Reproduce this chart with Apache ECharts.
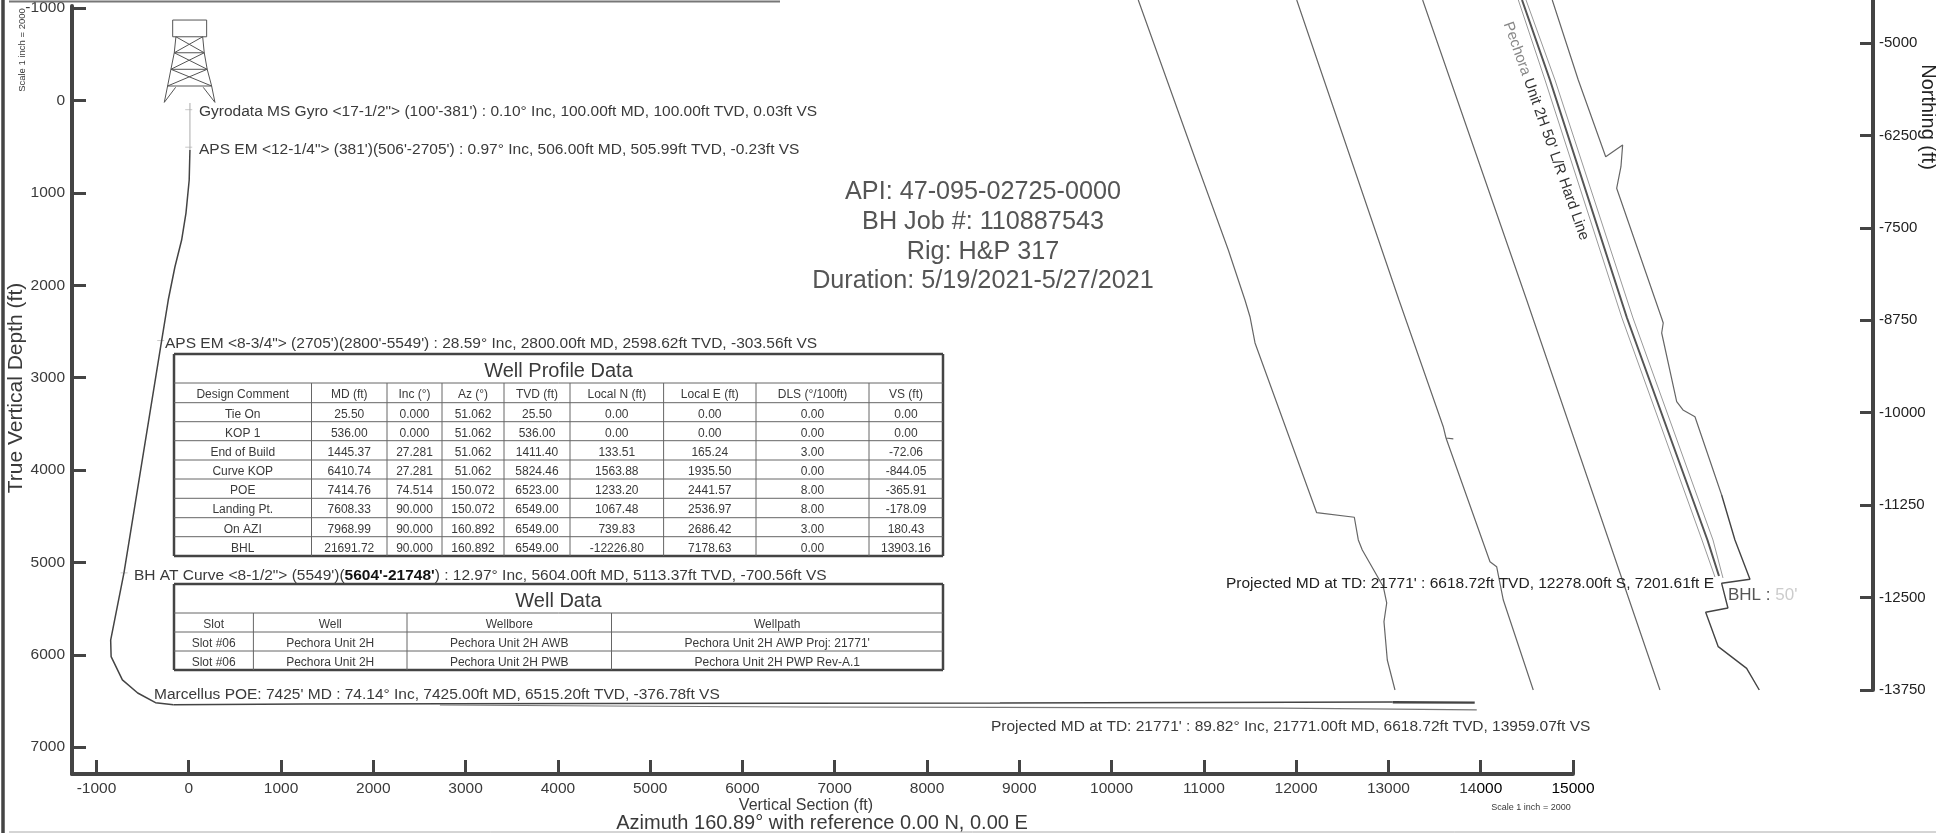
<!DOCTYPE html>
<html>
  <head>
    <meta charset="utf-8" />
    <title>Pechora Unit 2H</title>
    <script src="https://cdn.jsdelivr.net/npm/echarts@6/dist/echarts.min.js"></script>
    <style>
      html, body { margin: 0; padding: 0; background: #fff; }
      #chart { width: 1936px; height: 833px; }
    </style>
  </head>
  <body>
    <div id="chart"></div>
    <script type="text/javascript">
      // tick labels
      var tvdTicks = [-1000, 0, 1000, 2000, 3000, 4000, 5000, 6000, 7000];
      var vsTicks = [-1000, 0, 1000, 2000, 3000, 4000, 5000, 6000, 7000, 8000, 9000, 10000, 11000, 12000, 13000, 14000, 15000];
      var northingTicks = [-5000, -6250, -7500, -8750, -10000, -11250, -12500, -13750];

      // section view, [VS, TVD]
      var sectionUpper = [[13, 28], [13, 537]];
      var sectionCurve = [[13, 537], [5, 861], [-30, 1219], [-77, 1511], [-150, 1803], [-222, 2160], [-287, 2560],
        [-702, 5114], [-846, 5840], [-841, 6020], [-719, 6272], [-553, 6413], [-360, 6518], [-166, 6540]];
      var sectionLateralTop = [[-166, 6540], [1244, 6532], [4455, 6527], [8790, 6522], [13047, 6511]];
      var sectionLateralEnd = [[13047, 6514], [13935, 6518]];
      var sectionLateralLow = [[2722, 6543], [4531, 6554], [6622, 6565], [8790, 6570], [11823, 6576], [13068, 6587], [13957, 6597]];
      var surveyMarks = [[0, 100], [-0.23, 506], [-303.56, 2598.62], [-700.56, 5113.37]];

      // derrick drawn in the section axes, '-' breaks the line
      var derrick = [
        [-174, -870], [194, -870], [194, -689], [-174, -689], [-174, -870], ['-', '-'],
        [-139, -689], [-157, -516], [-193, -337], [-229, -156], [-265, 21], ['-', '-'],
        [151, -689], [168, -516], [200, -337], [248, -156], [284, 21], ['-', '-'],
        [-157, -516], [168, -516], ['-', '-'], [-193, -337], [200, -337], ['-', '-'], [-229, -156], [248, -156], ['-', '-'],
        [-139, -689], [168, -516], ['-', '-'], [151, -689], [-157, -516], ['-', '-'],
        [-157, -516], [200, -337], ['-', '-'], [168, -516], [-193, -337], ['-', '-'],
        [-193, -337], [248, -156], ['-', '-'], [200, -337], [-229, -156], ['-', '-'],
        [-142, -142], [-265, 21], ['-', '-'], [157, -142], [284, 21]
      ];

      // plan view, [easting, northing]
      var leaseA = [[-639, -4418], [151, -6623], [579, -7800], [804, -8476], [872, -8702], [940, -9057], [1774, -11352],
        [2283, -11414], [2337, -11721], [2391, -11857], [2675, -12353], [2721, -12573], [2684, -12826], [2729, -13344], [2833, -13750]];
      var leaseB = [[1504, -4418], [2887, -8476], [3486, -10189], [3523, -10342], [3622, -10355], [3523, -10342],
        [4118, -12015], [4208, -12082], [4298, -12533], [4703, -13750]];
      var leaseC = [[3207, -4418], [4614, -8476], [6417, -13750]];
      var leaseD = [[4960, -4418], [5312, -5500], [5683, -6538], [5912, -6379], [5889, -6673], [5831, -6965], [6440, -8723],
        [6461, -8787], [6440, -8922], [6643, -9851], [6728, -9963], [6890, -10054], [7251, -11113]];
      var leaseDLower = [[7251, -11113], [7431, -11721], [7634, -12253], [7251, -12307], [7336, -12641], [7035, -12699],
        [7205, -13164], [7589, -13457], [7760, -13750]];
      var hardLineLeft = [[4501, -4418], [4862, -5500], [5903, -8719], [6985, -11721], [7161, -12222]];
      var hardLineRight = [[4605, -4418], [4997, -5500], [6052, -8719], [7134, -11721], [7269, -12235]];
      var wellPlan = [[4551, -4418], [4929, -5500], [5971, -8719], [7059, -11721], [7215, -12208]];

      // texts
      var noteGyro = 'Gyrodata MS Gyro <17-1/2"> (100\'-381\') : 0.10° Inc, 100.00ft MD, 100.00ft TVD, 0.03ft VS';
      var noteAps1 = 'APS EM <12-1/4"> (381\')(506\'-2705\') : 0.97° Inc, 506.00ft MD, 505.99ft TVD, -0.23ft VS';
      var noteAps2 = 'APS EM <8-3/4"> (2705\')(2800\'-5549\') : 28.59° Inc, 2800.00ft MD, 2598.62ft TVD, -303.56ft VS';
      var noteBhStart = 'BH AT Curve <8-1/2"> (5549\')(';
      var noteBhBold = '5604\'-21748\'';
      var noteBhEnd = ') : 12.97° Inc, 5604.00ft MD, 5113.37ft TVD, -700.56ft VS';
      var notePoe = 'Marcellus POE: 7425\' MD : 74.14° Inc, 7425.00ft MD, 6515.20ft TVD, -376.78ft VS';
      var noteProjSection = 'Projected MD at TD: 21771\' : 89.82° Inc, 21771.00ft MD, 6618.72ft TVD, 13959.07ft VS';
      var noteProjPlan = 'Projected MD at TD: 21771\' : 6618.72ft TVD, 12278.00ft S, 7201.61ft E';
      var jobInfo = ['API: 47-095-02725-0000', 'BH Job #: 110887543', 'Rig: H&P 317', 'Duration: 5/19/2021-5/27/2021'];

      // tables
      var profileHeader = ['Design Comment', 'MD (ft)', 'Inc (°)', 'Az (°)', 'TVD (ft)', 'Local N (ft)', 'Local E (ft)', 'DLS (°/100ft)', 'VS (ft)'];
      var profileRows = [
        ['Tie On', '25.50', '0.000', '51.062', '25.50', '0.00', '0.00', '0.00', '0.00'],
        ['KOP 1', '536.00', '0.000', '51.062', '536.00', '0.00', '0.00', '0.00', '0.00'],
        ['End of Build', '1445.37', '27.281', '51.062', '1411.40', '133.51', '165.24', '3.00', '-72.06'],
        ['Curve KOP', '6410.74', '27.281', '51.062', '5824.46', '1563.88', '1935.50', '0.00', '-844.05'],
        ['POE', '7414.76', '74.514', '150.072', '6523.00', '1233.20', '2441.57', '8.00', '-365.91'],
        ['Landing Pt.', '7608.33', '90.000', '150.072', '6549.00', '1067.48', '2536.97', '8.00', '-178.09'],
        ['On AZI', '7968.99', '90.000', '160.892', '6549.00', '739.83', '2686.42', '3.00', '180.43'],
        ['BHL', '21691.72', '90.000', '160.892', '6549.00', '-12226.80', '7178.63', '0.00', '13903.16']
      ];
      var wellHeader = ['Slot', 'Well', 'Wellbore', 'Wellpath'];
      var wellRows = [
        ['Slot #06', 'Pechora Unit 2H', 'Pechora Unit 2H AWB', 'Pechora Unit 2H AWP Proj: 21771\''],
        ['Slot #06', 'Pechora Unit 2H', 'Pechora Unit 2H PWB', 'Pechora Unit 2H PWP Rev-A.1']
      ];

      var FONT = '"Liberation Sans"';
      var INK = '#3a3a3a';
      var NOTE = 15.5;

      function label(text, x, y, size, extra) {
        var style = {
          text: text, fill: INK, font: size + 'px ' + FONT,
          align: 'left', verticalAlign: 'middle', textAlign: 'left', textVerticalAlign: 'middle'
        };
        var el = { type: 'text', x: x, y: y, silent: true, z: 10, style: style };
        if (extra) {
          if (extra.align) { style.align = extra.align; style.textAlign = extra.align; }
          if (extra.rotation) { el.rotation = extra.rotation; }
          if (extra.rich) { style.rich = extra.rich; }
          if (extra.fill) { style.fill = extra.fill; }
        }
        return el;
      }

      function rule(x1, y1, x2, y2, width, color) {
        return { type: 'line', silent: true, z: 9, shape: { x1: x1, y1: y1, x2: x2, y2: y2 }, style: { stroke: color, lineWidth: width } };
      }

      // title row, header row, then body rows; columns is the list of inner and outer verticals
      function table(out, title, header, rows, columns, top, titleBottom, rowLines) {
        var left = columns[0], right = columns[columns.length - 1], bottom = rowLines[rowLines.length - 1];
        out.push(rule(left, top, right, top, 2.5, '#444'), rule(left, bottom, right, bottom, 2.5, '#444'));
        out.push(rule(left, top, left, bottom, 2.5, '#444'), rule(right, top, right, bottom, 2.5, '#444'));
        out.push(rule(left, titleBottom, right, titleBottom, 1, '#666'));
        out.push(label(title, (left + right) / 2, (top + titleBottom) / 2 + 3, 20, { align: 'center' }));
        for (var k = 0; k < rowLines.length - 1; k++) {
          out.push(rule(left, rowLines[k], right, rowLines[k], 1, '#666'));
        }
        for (var c = 1; c < columns.length - 1; c++) {
          out.push(rule(columns[c], titleBottom, columns[c], bottom, 1, '#666'));
        }
        var all = [header].concat(rows);
        var starts = [titleBottom].concat(rowLines);
        for (var r = 0; r < all.length; r++) {
          for (var j = 0; j < all[r].length; j++) {
            out.push(label(all[r][j], (columns[j] + columns[j + 1]) / 2, (starts[r] + starts[r + 1]) / 2 + 2, 12, { align: 'center' }));
          }
        }
      }

      var graphics = [
        rule(3, 0, 3, 833, 3.5, '#444'),
        rule(9, 1.5, 780, 1.5, 2, '#777'),
        rule(9, 832, 1936, 832, 1, '#aaa'),
        label(noteGyro, 199, 112, NOTE),
        label(noteAps1, 199, 150, NOTE),
        label(noteAps2, 165, 344, NOTE),
        label('{a|' + noteBhStart + '}{b|' + noteBhBold + '}{a|' + noteBhEnd + '}', 134, 576, NOTE, {
          rich: {
            a: { font: NOTE + 'px ' + FONT, fill: INK },
            b: { font: 'bold ' + NOTE + 'px ' + FONT, fill: '#111' }
          }
        }),
        label(notePoe, 154, 695, NOTE),
        label(noteProjSection, 991, 727, NOTE),
        label(noteProjPlan, 1226, 584, NOTE, { fill: '#222' }),
        label('{a|BHL : }{b|50\'}', 1728, 595, 17, {
          rich: {
            a: { font: '17px ' + FONT, fill: '#555' },
            b: { font: '17px ' + FONT, fill: '#ccc' }
          }
        }),
        label('{b|Pechora}{a| Unit 2H 50\' L/R Hard Line}', 1546, 131, 15, {
          align: 'center',
          rotation: -1.23,
          rich: {
            a: { font: '15px ' + FONT, fill: '#333' },
            b: { font: '15px ' + FONT, fill: '#888' }
          }
        }),
        label(jobInfo[0], 983, 192, 25.2, { align: 'center', fill: '#555' }),
        label(jobInfo[1], 983, 222, 25.2, { align: 'center', fill: '#555' }),
        label(jobInfo[2], 983, 252, 25.2, { align: 'center', fill: '#555' }),
        label(jobInfo[3], 983, 281, 25.2, { align: 'center', fill: '#555' }),
        label('True Vertical Depth (ft)', 16, 388, 21, { align: 'center', rotation: Math.PI / 2 }),
        label('Vertical Section (ft)', 806, 806, 16, { align: 'center' }),
        label('Azimuth 160.89° with reference 0.00 N, 0.00 E', 822, 823, 20, { align: 'center' }),
        label('Northing (ft)', 1928, 117, 20, { align: 'center', rotation: -Math.PI / 2, fill: '#222' }),
        label('Scale 1 inch = 2000', 22, 50, 9.5, { align: 'center', rotation: Math.PI / 2 }),
        label('Scale 1 inch = 2000', 1531, 808, 9, { align: 'center' })
      ];

      table(graphics, 'Well Profile Data', profileHeader, profileRows,
        [174, 311.5, 387, 442, 504, 570, 663.6, 756, 869, 943], 354, 383,
        [402.7, 421.7, 440.7, 460, 479, 498.3, 517.7, 536.7, 556]);
      table(graphics, 'Well Data', wellHeader, wellRows,
        [174, 253.4, 407, 611.5, 943], 584, 613, [632, 651, 670]);

      function thin(data, width, color, xi, yi) {
        return {
          type: 'line', data: data, xAxisIndex: xi, yAxisIndex: yi, symbol: 'none', silent: true,
          lineStyle: { width: width, color: color }
        };
      }

      var axisColor = '#444';

      var chart = echarts.init(document.getElementById('chart'));
      chart.setOption({
        animation: false,
        backgroundColor: '#fff',
        grid: [
          { left: 72, right: 363, top: 6, bottom: 59 },
          { left: 1000, right: 63, top: 0, bottom: 143 }
        ],
        xAxis: [
          {
            gridIndex: 0, type: 'value', min: -1265, max: 15000,
            splitLine: { show: false },
            axisLine: { onZero: false, lineStyle: { color: axisColor, width: 4 } },
            axisTick: { inside: true, length: 14, customValues: vsTicks, lineStyle: { color: axisColor, width: 3 } },
            axisLabel: {
              customValues: vsTicks, margin: 7, fontSize: 15.5, color: INK, fontFamily: FONT,
              rich: { dark: { color: '#000', fontSize: 15.5, fontFamily: FONT } },
              formatter: function (v) {
                if (v === 15000) { return '{dark|15000}'; }
                if (v === 14000) { return '14{dark|000}'; }
                return String(v);
              }
            }
          },
          { gridIndex: 1, type: 'value', min: -2509, max: 9298, show: false }
        ],
        yAxis: [
          {
            gridIndex: 0, type: 'value', inverse: true, min: -1022, max: 7290,
            splitLine: { show: false },
            axisLine: { onZero: false, lineStyle: { color: axisColor, width: 4 } },
            axisTick: { inside: true, length: 14, customValues: tvdTicks, lineStyle: { color: axisColor, width: 3 } },
            axisLabel: {
              customValues: tvdTicks, margin: 7, padding: [3, 0, 0, 0], fontSize: 15.5, color: INK, fontFamily: FONT,
              formatter: function (v) { return String(v); }
            }
          },
          {
            gridIndex: 1, type: 'value', position: 'right', min: -13750, max: -4418.5,
            splitLine: { show: false },
            axisLine: { onZero: false, lineStyle: { color: axisColor, width: 4 } },
            axisTick: { inside: true, length: 13, customValues: northingTicks, lineStyle: { color: axisColor, width: 3 } },
            axisLabel: {
              customValues: northingTicks, margin: 6, padding: [3, 0, 0, 0], fontSize: 15, color: '#222', fontFamily: FONT,
              formatter: function (v) { return String(v); }
            }
          }
        ],
        series: [
          thin(derrick, 1, '#555', 0, 0),
          thin(sectionUpper, 1, '#aaa', 0, 0),
          thin(sectionCurve, 1.5, '#444', 0, 0),
          thin(sectionLateralTop, 1.6, '#444', 0, 0),
          thin(sectionLateralEnd, 2.4, '#444', 0, 0),
          thin(sectionLateralLow, 1.2, '#777', 0, 0),
          {
            type: 'scatter', data: surveyMarks, xAxisIndex: 0, yAxisIndex: 0, silent: true,
            symbol: 'rect', symbolSize: [7, 1], itemStyle: { color: '#bbb' }
          },
          thin(leaseA, 1.2, '#666', 1, 1),
          thin(leaseB, 1.2, '#666', 1, 1),
          thin(leaseC, 1.2, '#666', 1, 1),
          thin(leaseD, 1.2, '#666', 1, 1),
          thin(leaseDLower, 1.4, '#444', 1, 1),
          thin(hardLineLeft, 1, '#999', 1, 1),
          thin(hardLineRight, 1, '#999', 1, 1),
          thin(wellPlan, 2, '#555', 1, 1)
        ],
        graphic: { elements: graphics }
      });
    </script>
  </body>
</html>
